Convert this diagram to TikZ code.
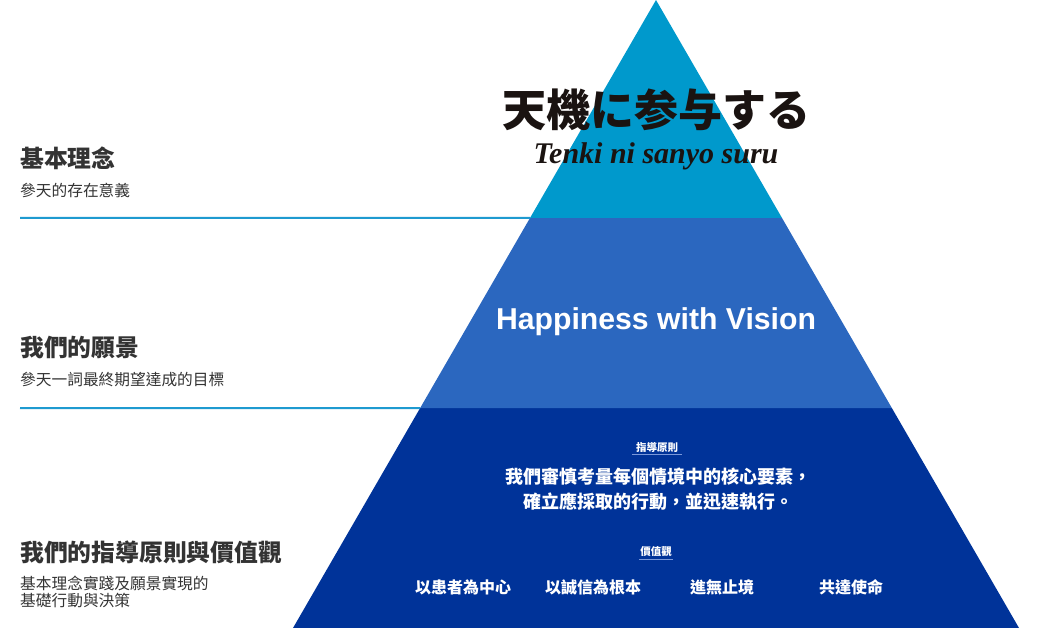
\documentclass[tikz,border=0pt]{standalone}
\usepackage{fontspec}
\usetikzlibrary{calc,positioning}

\newfontfamily\tcfont{Noto Sans CJK TC}
\newfontfamily\jpfont{Noto Sans CJK JP}
\newfontfamily\timesfont{Liberation Serif}
\newfontfamily\arialfont{Liberation Sans}

\definecolor{tiertop}{HTML}{0099CC}
\definecolor{tiermid}{HTML}{2B67BF}
\definecolor{tierbot}{HTML}{003399}
\definecolor{rulecol}{HTML}{1E9AD0}
\definecolor{ulinecol}{HTML}{7A98DA}
\definecolor{ink}{HTML}{333333}
\definecolor{brush}{HTML}{1A1311}

\begin{document}
\begin{tikzpicture}[x=1pt, y=-1pt,
    head/.style={anchor=west, inner sep=0pt, text=ink, font=\tcfont\bfseries\fontsize{23.8}{26}\selectfont},
    sub/.style={anchor=west, inner sep=0pt, text=ink, align=left, font=\tcfont\fontsize{15.7}{17}\selectfont},
    tag/.style={inner sep=0pt, text=white, font=\tcfont\bfseries\fontsize{10.5}{12}\selectfont},
    value/.style={inner sep=0pt, text=white, font=\tcfont\bfseries\fontsize{16}{18}\selectfont},
    divider/.style={rulecol, line width=2pt},
    tagline/.style={ulinecol, line width=1pt}] % 1pt = 1px

  \useasboundingbox (0,0) rectangle (1040,628);

  \coordinate (apex) at (656,0);
  \coordinate (bl) at (293,628);
  \coordinate (br) at (1019,628);
  \coordinate (l1) at ($(apex)!0.347!(bl)$);
  \coordinate (r1) at ($(apex)!0.347!(br)$);
  \coordinate (l2) at ($(apex)!0.65!(bl)$);
  \coordinate (r2) at ($(apex)!0.65!(br)$);

  % pyramid
  \fill[tierbot] (l2) -- (r2) -- (br) -- (bl) -- cycle;
  \fill[tiermid] (l1) -- (r1) -- (r2) -- (l2) -- cycle;
  \fill[tiertop] (apex) -- (r1) -- (l1) -- cycle;

  % left column
  \coordinate (d1) at (20,218);
  \coordinate (d2) at (20,408);
  \draw[divider] (d1) -- (l1);
  \draw[divider] (d2) -- (l2);

  \node[head] (idea) at (20,158) {基本理念};
  \node[sub] (ideasub) at (20,190) {參天的存在意義};
  \node[head] (vis) at (20,348) {我們的願景};
  \node[sub] (vissub) at (20,380) {參天一詞最終期望達成的目標};
  \node[head] (val) at (20,552) {我們的指導原則與價值觀};
  \node[sub] (valsub) at (20,592) {基本理念實踐及願景實現的\\基礎行動與決策};

  % top tier
  \node[inner sep=0pt, text=brush, font=\jpfont\bfseries\fontsize{44}{48}\selectfont] (motto) at (656,110) {天機に参与する};
  \node[inner sep=0pt, text=brush, font=\timesfont\bfseries\itshape\fontsize{30}{32}\selectfont] (romaji) at (656,156) {Tenki ni sanyo suru};

  % middle tier
  \node[inner sep=0pt, text=white, font=\arialfont\bfseries\fontsize{30.2}{32}\selectfont] (happy) at (656,322) {Happiness with Vision};

  % bottom tier
  \node[tag] (guide) at (657,447) {指導原則};
  \draw[tagline] ($(guide.south west)+(-4,2)$) -- ($(guide.south east)+(4,2)$);
  \node[inner sep=0pt, text=white, align=center, font=\tcfont\bfseries\fontsize{18}{25}\selectfont] (guidetext) at (658,489)
    {我們審慎考量每個情境中的核心要素，\\確立應採取的行動，並迅速執行。};

  \node[tag] (values) at (656,552) {價值觀};
  \draw[tagline] ($(values.south west)+(-1,2)$) -- ($(values.south east)+(1,2)$);
  \node[value] (v1) at (463,587) {以患者為中心};
  \node[value] (v2) at (593,587) {以誠信為根本};
  \node[value] (v3) at (722,587) {進無止境};
  \node[value] (v4) at (851,587) {共達使命};
\end{tikzpicture}
\end{document}
